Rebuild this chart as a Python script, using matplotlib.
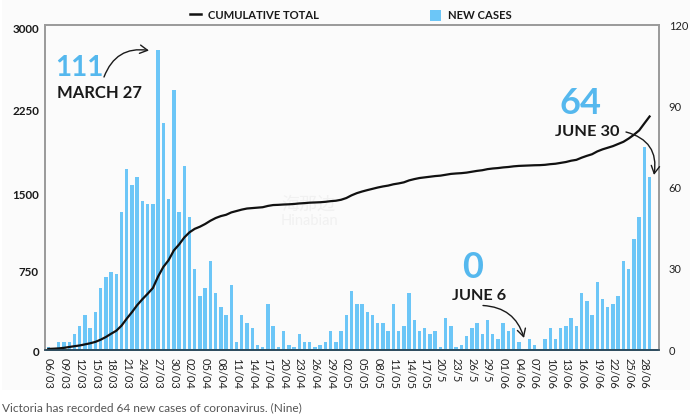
import numpy as np
from matplotlib import pyplot as plt
from matplotlib import transforms
from matplotlib.lines import Line2D
from matplotlib.patches import Patch, Rectangle

new_cases = [1, 0, 3, 3, 3, 6, 9, 13, 8, 14, 23, 27, 29, 28, 51, 67, 61, 64, 55, 54,
             54, 111, 84, 56, 96, 51, 68, 49, 30, 20, 23, 33, 21, 16, 13, 24, 3, 13, 10, 8,
             2, 1, 17, 9, 1, 7, 2, 1, 6, 3, 3, 1, 2, 3, 7, 3, 7, 13, 22, 17,
             17, 14, 13, 10, 10, 7, 17, 7, 9, 21, 11, 7, 8, 6, 7, 1, 12, 9, 1, 2,
             5, 8, 10, 6, 11, 6, 4, 10, 7, 8, 3, 0, 4, 2, 0, 4, 8, 4, 8, 9,
             12, 9, 21, 18, 13, 25, 19, 16, 17, 20, 33, 30, 41, 49, 75, 64]

cumulative = [10, 12, 15, 20, 28, 35, 42, 52, 62, 75, 95, 120, 150, 178, 225, 290, 350, 415, 470, 520,
              573, 680, 768, 830, 920, 975, 1040, 1088, 1120, 1140, 1165, 1195, 1220, 1238, 1250, 1272, 1285, 1298, 1308, 1312,
              1316, 1320, 1332, 1340, 1342, 1345, 1347, 1350, 1355, 1358, 1362, 1364, 1366, 1370, 1376, 1380, 1389, 1405, 1430, 1450,
              1465, 1478, 1490, 1502, 1512, 1520, 1532, 1540, 1550, 1568, 1580, 1590, 1596, 1602, 1608, 1612, 1620, 1628, 1632, 1635,
              1640, 1648, 1656, 1662, 1672, 1678, 1682, 1688, 1692, 1698, 1702, 1704, 1706, 1708, 1709, 1712, 1718, 1722, 1730, 1738,
              1750, 1758, 1778, 1795, 1810, 1836, 1855, 1870, 1885, 1905, 1925, 1955, 1990, 2030, 2095, 2159]

date_labels = ["06/03", "09/03", "12/03", "15/03", "18/03", "21/03", "24/03", "27/03", "30/03", "02/04",
               "05/04", "08/04", "11/04", "14/04", "17/04", "20/04", "23/04", "26/04", "29/04", "02/05",
               "05/05", "08/05", "11/05", "14/05", "17/05", "20/5", "23/5", "26/5", "29/5", "01/06",
               "04/06", "07/06", "10/06", "13/06", "16/06", "19/06", "22/06", "25/06", "28/06"]

left_ticks = [0, 750, 1500, 2250, 3000]
right_ticks = [0, 30, 60, 90, 120]

W, H = 693, 415
BLUE = "#6cc6f7"
BIG_BLUE = "#55b8ee"
INK = "#1a1a1a"
FONT = "Lato"


def px(x, y):
    # figure pixels, y from the top
    return x / W, 1 - y / H


def arrow(start, end, rad):
    ax.annotate("", xy=px(*end), xytext=px(*start), xycoords="figure fraction",
                textcoords="figure fraction", annotation_clip=False,
                arrowprops=dict(arrowstyle="->,head_length=0.55,head_width=0.3", color=INK, lw=1.0,
                                shrinkA=0, shrinkB=0,
                                connectionstyle="arc3,rad={}".format(rad)))


fig = plt.figure(figsize=(W / 100, H / 100), dpi=100, facecolor="white")
fig.add_artist(Rectangle((2 / W, 1 - 390 / H), 688 / W, 390 / H, transform=fig.transFigure,
                         facecolor="#fbfbfb", edgecolor="none", zorder=-1))

ax = fig.add_axes([44.5 / W, 1 - 350 / H, 614.5 / W, 324.5 / H])
ax2 = ax.twinx()
ax.set_zorder(ax2.get_zorder() + 1)
ax.patch.set_visible(False)
ax2.patch.set_visible(False)

days = np.arange(len(new_cases))
ax2.bar(days, new_cases, width=0.66, color=BLUE, linewidth=0)
ax.plot(days, cumulative, color="#111111", lw=1.6)

ax.set_xlim(-0.73, 116.8)
ax.set_ylim(0, 3000)
ax2.set_ylim(0, 120)

ax.set_xticks(days[::3][:len(date_labels)])
ax.set_xticklabels(date_labels, rotation=270, fontsize=8, fontfamily=FONT, color="#222222")
ax.set_yticks(left_ticks)
ax.set_yticklabels([str(t) for t in left_ticks], fontsize=8.4, fontfamily=FONT, fontweight="bold", color=INK)
ax2.set_yticks(right_ticks)
ax2.set_yticklabels([str(t) for t in right_ticks], fontsize=8, fontfamily=FONT, color="#222222")
ax.tick_params(axis="x", length=0, pad=6)
ax.tick_params(axis="y", length=0, pad=4)
ax2.tick_params(axis="y", length=0, pad=7)

# the left labels sit a little off their ticks in the original
for label, dy in zip(ax.get_yticklabels(), [-1, -2, -5, -3, -2]):
    label.set_transform(label.get_transform() + transforms.ScaledTranslation(0, dy / 72, fig.dpi_scale_trans))

for a in (ax, ax2):
    for side in ("left", "top", "right"):
        a.spines[side].set_color("#9a9a9a")
        a.spines[side].set_linewidth(1.2)
    a.spines["bottom"].set_color("#2b4a5c")
    a.spines["bottom"].set_linewidth(1.2)

handles = [Line2D([0], [0], color="#111111", lw=1.8), Patch(facecolor=BLUE, edgecolor="none")]
fig.legend(handles, ["CUMULATIVE TOTAL", "NEW CASES"], ncol=2, frameon=False, loc="center",
           bbox_to_anchor=px(351, 15.5), prop=dict(family=FONT, weight="bold", size=8.1),
           labelcolor=INK, handlelength=1.0, handleheight=1.2, columnspacing=9.9, handletextpad=0.6)

fig.text(*px(79, 68), "111", color=BIG_BLUE, fontsize=20, fontfamily=FONT, fontweight="bold", ha="center", va="center")
fig.text(*px(100, 93.5), "MARCH 27", color=INK, fontsize=12, fontfamily=FONT, fontweight="bold", ha="center", va="center")
fig.text(*px(580.5, 103), "64", color=BIG_BLUE, fontsize=26, fontfamily=FONT, fontweight="bold", ha="center", va="center")
fig.text(*px(587.5, 131.5), "JUNE 30", color=INK, fontsize=11.8, fontfamily=FONT, fontweight="bold", ha="center", va="center")
fig.text(*px(472.5, 268), "0", color=BIG_BLUE, fontsize=26, fontfamily=FONT, fontweight="bold", ha="center", va="center")
fig.text(*px(479.5, 296.5), "JUNE 6", color=INK, fontsize=11.7, fontfamily=FONT, fontweight="bold", ha="center", va="center")

arrow((104, 77), (149, 50.5), -0.4)
arrow((483, 305.5), (524, 338), -0.35)
arrow((626, 132), (654, 175), -0.45)

# faint watermark behind the line
fig.text(*px(308, 205), "海那边", color="#f1f1f1", fontsize=13, family=["Noto Sans CJK SC", "DejaVu Sans"],
         ha="center", va="center", zorder=-0.5)
fig.text(*px(309, 221), "Hinabian", color="#f1f1f1", fontsize=10.5, fontfamily=FONT, ha="center", va="center", zorder=-0.5)

fig.text(*px(2, 408), "Victoria has recorded 64 new cases of coronavirus. (Nine)", color="#555555",
         fontsize=8.55, fontfamily=FONT, ha="left", va="center")

fig.savefig("out.png", dpi=100)
